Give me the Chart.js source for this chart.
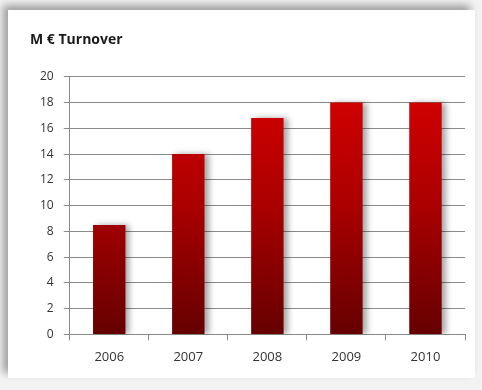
<!DOCTYPE html>
<html>
<head>
<meta charset="utf-8">
<script src="https://cdn.jsdelivr.net/npm/chart.js@4.4.1/dist/chart.umd.min.js"></script>
<style>
    html, body {
        margin: 0;
        padding: 0;
        width: 482px;
        height: 390px;
        overflow: hidden;
        background: #f3f3f3;
    }
    #panel {
        position: absolute;
        left: 8px;
        top: 10px;
        width: 467px;
        height: 368px;
        background: #ffffff;
        box-shadow: -5px -5px 8px rgba(0, 0, 0, 0.35);
    }
</style>
</head>
<body>
<div id="panel"><canvas id="turnoverChart" width="467" height="368"></canvas></div>
<script>
// ===== DATA =====
const years = ['2006', '2007', '2008', '2009', '2010'];
const turnover = [8.5, 14, 16.8, 18, 18];
const yTicks = [0, 2, 4, 6, 8, 10, 12, 14, 16, 18, 20];

// ===== BAR SHADING =====
function barGradient(context) {
    const chart = context.chart;
    const area = chart.chartArea;
    if (!area) return '#b00000';
    const g = chart.ctx.createLinearGradient(0, area.top, 0, area.bottom);
    g.addColorStop(0, '#d80000');
    g.addColorStop(0.5, '#aa0000');
    g.addColorStop(1, '#650000');
    return g;
}

// soft shadow to the right of each bar
const barShadow = {
    id: 'barShadow',
    beforeDatasetsDraw(chart) {
        const ctx = chart.ctx;
        ctx.save();
        ctx.shadowColor = 'rgba(0, 0, 0, 0.35)';
        ctx.shadowBlur = 6;
        ctx.shadowOffsetX = 4;
        ctx.shadowOffsetY = 0;
    },
    afterDatasetsDraw(chart) {
        chart.ctx.restore();
    }
};

// ===== CHART =====
function initChart() {
    const ctx = document.getElementById('turnoverChart').getContext('2d');
    new Chart(ctx, {
        type: 'bar',
        data: {
            labels: years,
            datasets: [{
                label: 'Turnover',
                data: turnover,
                backgroundColor: barGradient,
                borderWidth: 0,
                categoryPercentage: 1,
                barPercentage: 0.41
            }]
        },
        plugins: [barShadow],
        options: {
            responsive: false,
            animation: false,
            layout: { padding: { left: 22, right: 10, top: 0, bottom: 4 } },
            plugins: {
                legend: { display: false },
                tooltip: { enabled: false },
                title: {
                    display: true,
                    text: 'M € Turnover',
                    align: 'start',
                    color: '#1a1a1a',
                    font: { family: 'Open Sans', size: 14, weight: 'bold' },
                    padding: { top: 22, bottom: 28 }
                }
            },
            scales: {
                x: {
                    grid: {
                        display: true,
                        drawOnChartArea: false,
                        offset: true,
                        tickLength: 6,
                        tickColor: '#8a8a8a'
                    },
                    border: { color: '#8a8a8a' },
                    ticks: {
                        color: '#333333',
                        padding: 9,
                        font: { family: 'Open Sans', size: 13 }
                    }
                },
                y: {
                    min: 0,
                    max: 20,
                    afterBuildTicks(axis) {
                        axis.ticks = yTicks.map(v => ({ value: v }));
                    },
                    grid: {
                        color: '#8a8a8a',
                        tickLength: 6,
                        tickColor: '#8a8a8a'
                    },
                    border: { color: '#8a8a8a' },
                    ticks: {
                        color: '#333333',
                        padding: 10,
                        font: { family: 'Open Sans', size: 12 }
                    }
                }
            }
        }
    });
}

initChart();
</script>
</body>
</html>
